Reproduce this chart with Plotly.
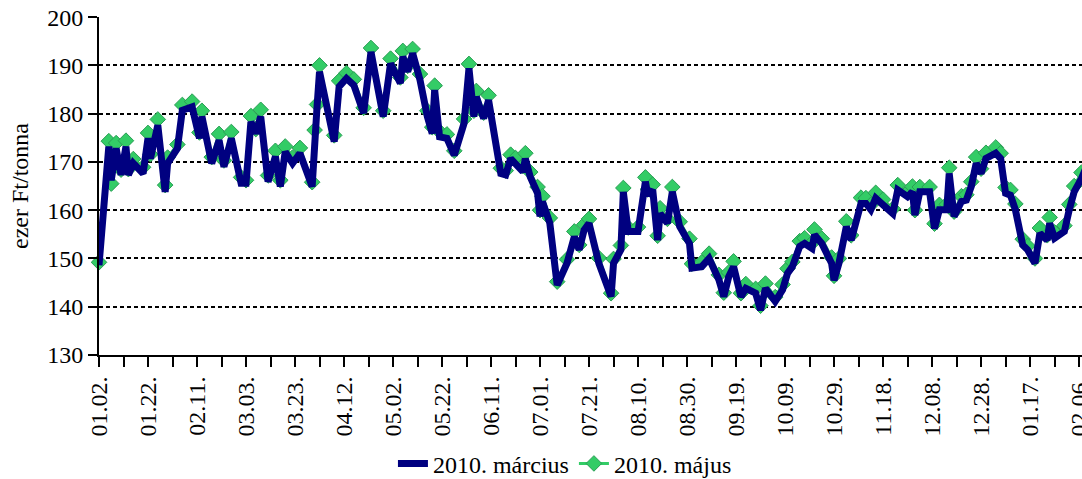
import pandas as pd
import plotly.graph_objects as go

# trading days, counted from 2009-01-02
day_offset = [
    0, 4, 5, 7, 9, 11, 12, 14, 18, 20,
    21, 24, 27, 28, 32, 34, 38, 41, 42, 46,
    49, 51, 54, 58, 60, 62, 64, 66, 69, 72,
    74, 76, 79, 82, 87, 88, 89, 90, 96, 98,
    101, 104, 108, 111, 116, 119, 123, 124, 126, 128,
    131, 134, 136, 137, 139, 142, 145, 149, 151, 153,
    154, 157, 159, 164, 166, 168, 170, 173, 174, 176,
    179, 180, 181, 184, 187, 191, 194, 196, 198, 200,
    204, 209, 210, 213, 214, 216, 220, 223, 224, 226,
    228, 229, 232, 234, 237, 241, 242, 246, 249, 253,
    255, 257, 259, 262, 264, 268, 270, 272, 276, 279,
    281, 283, 286, 288, 291, 292, 295, 299, 300, 302,
    305, 307, 311, 313, 315, 317, 320, 324, 326, 330,
    332, 333, 335, 339, 341, 343, 346, 347, 349, 352,
    354, 356, 358, 360, 362, 366, 368, 370, 372, 374,
    377, 379, 382, 384, 387, 388, 390, 394, 396, 398,
    401, 403,
]

# 2010. március (ezer Ft/tonna)
marcius = [
    148.6, 173.2, 166.2, 172.8, 167.3, 173.2, 167.3, 169.7, 167.6, 174.9,
    170.7, 177.6, 163.8, 169.7, 172.8, 180.7, 181.4, 174.9, 179.4, 169.7,
    174.5, 169.0, 174.9, 165.6, 165.6, 178.3, 175.9, 179.4, 165.9, 171.1,
    164.9, 172.1, 169.7, 171.8, 164.9, 176.0, 181.5, 188.7, 174.2, 185.6,
    187.3, 185.9, 180.1, 192.8, 179.4, 190.4, 186.3, 191.8, 188.7, 192.5,
    187.0, 179.4, 175.9, 184.9, 175.2, 174.9, 171.4, 178.0, 189.4, 179.4,
    183.5, 179.0, 182.8, 167.6, 167.3, 170.7, 169.7, 168.0, 170.7, 166.9,
    163.5, 158.7, 161.8, 157.3, 144.5, 149.0, 154.5, 151.8, 155.9, 157.3,
    149.0, 142.1, 149.0, 151.8, 163.8, 155.6, 155.6, 165.9, 163.1, 164.2,
    153.8, 159.3, 157.3, 163.8, 156.6, 153.1, 148.0, 148.3, 150.0, 145.6,
    142.1, 146.2, 148.3, 142.1, 143.8, 142.8, 139.3, 143.8, 141.1, 143.5,
    146.9, 148.3, 152.5, 153.1, 152.1, 154.9, 153.1, 149.0, 145.5, 149.0,
    156.6, 153.8, 161.4, 161.4, 160.1, 162.5, 161.1, 159.3, 164.2, 162.8,
    163.8, 159.0, 163.8, 163.8, 156.2, 160.1, 160.1, 167.6, 158.7, 161.8,
    162.1, 164.9, 169.7, 167.6, 170.7, 171.8, 170.7, 163.5, 163.1, 160.1,
    152.8, 151.8, 149.0, 155.2, 153.8, 157.3, 154.2, 155.6, 160.1, 163.8,
    166.6, 169.0,
]

# 2010. május (ezer Ft/tonna)
majus = [
    149.2, 174.3, 165.5, 173.9, 168.4, 174.4, 168.5, 170.6, 168.9, 176.0,
    171.6, 178.8, 165.2, 170.9, 173.6, 181.8, 182.5, 176.1, 180.6, 171.0,
    175.8, 170.3, 176.2, 166.8, 166.2, 179.5, 176.8, 180.8, 167.2, 172.3,
    166.2, 173.2, 170.9, 172.9, 165.8, 176.6, 181.9, 190.0, 175.5, 186.8,
    188.4, 187.1, 181.2, 193.6, 180.6, 191.4, 187.5, 193.0, 189.9, 193.4,
    188.2, 180.6, 177.2, 185.8, 176.3, 175.7, 172.3, 178.9, 190.3, 180.6,
    184.7, 180.2, 183.8, 168.7, 168.2, 171.5, 170.8, 169.2, 171.8, 167.9,
    164.8, 160.0, 162.9, 158.4, 145.2, 149.8, 155.6, 152.8, 157.0, 158.2,
    150.1, 142.8, 149.9, 152.7, 164.6, 156.4, 156.5, 166.8, 164.3, 165.3,
    154.7, 160.4, 158.2, 164.8, 157.6, 154.1, 148.9, 149.2, 151.0, 146.6,
    142.9, 147.1, 149.4, 142.8, 144.7, 143.7, 140.2, 144.8, 142.0, 144.6,
    147.9, 149.3, 153.6, 154.2, 153.2, 156.0, 154.1, 150.2, 146.4, 150.0,
    157.7, 154.8, 162.6, 162.5, 161.1, 163.6, 162.2, 160.3, 165.2, 163.7,
    164.9, 160.0, 164.8, 164.8, 157.2, 161.1, 161.2, 168.8, 159.7, 162.9,
    163.2, 165.9, 171.0, 168.6, 171.9, 173.0, 171.8, 164.7, 164.2, 161.3,
    154.0, 152.6, 150.0, 156.3, 154.8, 158.5, 155.4, 156.8, 161.2, 165.0,
    167.8, 170.0,
]

start = pd.Timestamp("2009-01-02")
dates = start + pd.to_timedelta(day_offset, unit="D")
DAY_MS = 86400000
SERIF = "Liberation Serif, Times New Roman, serif"

fig = go.Figure()

# green drawn first so the thick navy line sits on top
fig.add_trace(go.Scatter(
    x=dates, y=majus, name="2010. május", mode="lines+markers",
    line=dict(color="#33CC66", width=3),
    marker=dict(symbol="diamond", size=12, color="#33CC66",
                line=dict(color="#2A9E55", width=1)),
    cliponaxis=False,
))
fig.add_trace(go.Scatter(
    x=dates, y=marcius, name="2010. március", mode="lines",
    line=dict(color="#000080", width=7),
))

fig.update_layout(
    width=1082, height=479,
    margin=dict(l=99, r=0, t=17, b=124, autoexpand=False),
    plot_bgcolor="white", paper_bgcolor="white",
    font=dict(family=SERIF, size=24, color="black"),
    legend=dict(orientation="h", x=0.474, xanchor="center",
                y=-0.322, yanchor="middle", traceorder="reversed",
                font=dict(family=SERIF, size=24)),
)

fig.update_xaxes(
    type="date", automargin=False,
    range=[start, start + pd.Timedelta(days=401.2)],
    tick0=start, dtick=20 * DAY_MS, tickformat="%m.%d.",
    tickfont=dict(family=SERIF, size=24), ticklabeloverflow="allow",
    tickangle=-90, ticks="outside", ticklen=10, tickwidth=2, tickcolor="black",
    showline=True, linecolor="black", linewidth=2, showgrid=False,
    minor=dict(tick0=start, dtick=10 * DAY_MS, ticks="outside", ticklen=10,
               tickwidth=2, tickcolor="black", showgrid=False),
)

fig.update_yaxes(
    automargin=False,
    range=[130, 200.02], tick0=130, dtick=10,
    tickfont=dict(family=SERIF, size=24), ticklabeloverflow="allow",
    ticks="outside", ticklen=9, tickwidth=2, tickcolor="black",
    showline=True, linecolor="black", linewidth=2,
    showgrid=True, gridcolor="black", gridwidth=2, griddash="4px,3px",
    zeroline=False,
    title=dict(text="ezer Ft/tonna", standoff=12,
               font=dict(family=SERIF, size=24)),
)

fig.write_html(
    "out.html",
    config={"displayModeBar": False},
    post_script="document.body.style.margin='0';document.body.style.overflow='hidden';",
)
